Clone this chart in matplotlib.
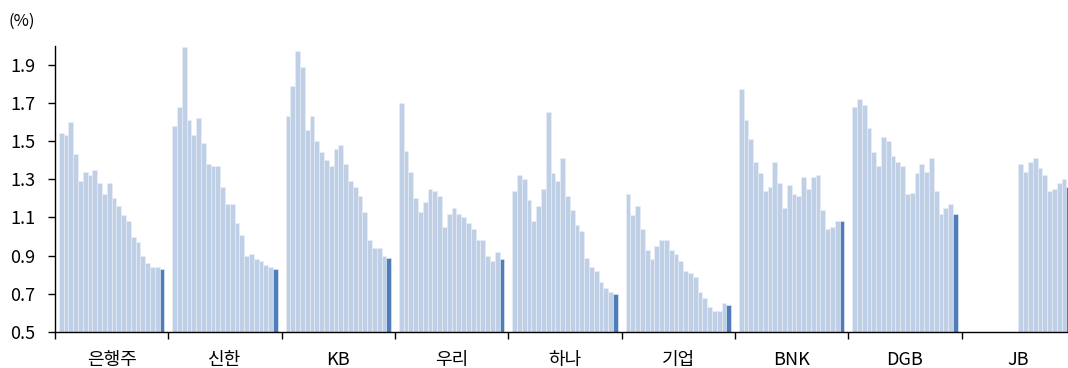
import numpy as np
import matplotlib
matplotlib.use("Agg")
import matplotlib.pyplot as plt

plt.rcParams['font.family'] = ['Noto Sans CJK KR', 'DejaVu Sans']

# 은행별 분기 시계열 (%) - 마지막 값이 최근 분기
banks = ['은행주', '신한', 'KB', '우리', '하나', '기업', 'BNK', 'DGB', 'JB']

bank_all = [1.54, 1.53, 1.60, 1.43, 1.29, 1.34, 1.32, 1.35, 1.28, 1.22, 1.28,
            1.20, 1.16, 1.11, 1.08, 1.00, 0.97, 0.90, 0.86, 0.84, 0.84, 0.83]
shinhan = [1.58, 1.68, 1.99, 1.61, 1.53, 1.62, 1.49, 1.38, 1.37, 1.37, 1.26,
           1.17, 1.17, 1.07, 1.01, 0.90, 0.91, 0.88, 0.87, 0.85, 0.84, 0.83]
kb = [1.63, 1.79, 1.97, 1.89, 1.56, 1.63, 1.50, 1.44, 1.40, 1.37, 1.46,
      1.48, 1.38, 1.29, 1.26, 1.21, 1.13, 0.98, 0.94, 0.94, 0.90, 0.89]
woori = [1.70, 1.45, 1.34, 1.20, 1.13, 1.18, 1.25, 1.24, 1.21, 1.05, 1.12,
         1.15, 1.12, 1.10, 1.07, 1.04, 0.98, 0.98, 0.90, 0.87, 0.92, 0.88]
hana = [1.24, 1.32, 1.30, 1.19, 1.08, 1.16, 1.25, 1.65, 1.33, 1.29, 1.41,
        1.21, 1.14, 1.06, 1.03, 0.89, 0.84, 0.82, 0.76, 0.73, 0.71, 0.70]
ibk = [1.22, 1.11, 1.16, 1.04, 0.93, 0.88, 0.95, 0.98, 0.98, 0.93, 0.91,
       0.87, 0.82, 0.81, 0.79, 0.71, 0.68, 0.63, 0.61, 0.61, 0.65, 0.64]
bnk = [1.77, 1.61, 1.51, 1.39, 1.33, 1.24, 1.26, 1.39, 1.28, 1.15, 1.27,
       1.22, 1.21, 1.31, 1.25, 1.31, 1.32, 1.14, 1.04, 1.05, 1.08, 1.08]
dgb = [1.68, 1.72, 1.69, 1.57, 1.44, 1.37, 1.52, 1.50, 1.42, 1.39, 1.37,
       1.22, 1.23, 1.33, 1.38, 1.34, 1.41, 1.24, 1.12, 1.15, 1.17, 1.12]
jb = [np.nan] * 11 + [1.38, 1.34, 1.39, 1.41, 1.36, 1.32, 1.24, 1.25, 1.28, 1.30, 1.26]

series = [bank_all, shinhan, kb, woori, hana, ibk, bnk, dgb, jb]

light = '#BFD0E6'
dark = '#4F7DB9'

W = 23.6  # group width in bar units
n = 22

fig = plt.figure(figsize=(10.68, 3.68), dpi=100)
ax = fig.add_axes([55 / 1068, 36 / 368, 1020 / 1068, 286.5 / 368])

for g, vals in enumerate(series):
    vals = np.array(vals, dtype=float)
    x = g * W + (W - n) / 2 + np.arange(n) + 0.5
    colors = [light] * (n - 1) + [dark]
    ok = ~np.isnan(vals)
    ax.bar(x[ok], vals[ok] - 0.5, bottom=0.5, width=1.0,
           color=np.array(colors)[ok], edgecolor='#E9EFF7', linewidth=0.4)

ax.set_xlim(0, 9 * W)
ax.set_ylim(0.5, 2.0)
ax.set_yticks([0.5, 0.7, 0.9, 1.1, 1.3, 1.5, 1.7, 1.9])
ax.set_yticklabels(['0.5', '0.7', '0.9', '1.1', '1.3', '1.5', '1.7', '1.9'])
ax.set_xticks([g * W for g in range(10)])
ax.set_xticklabels([])
ax.set_xticks([(g + 0.5) * W for g in range(9)], minor=True)
ax.set_xticklabels(banks, minor=True)
ax.tick_params(axis='x', which='minor', length=0, pad=14, labelsize=13)
ax.tick_params(axis='x', which='major', length=5, width=1)
ax.tick_params(axis='y', length=5, width=1, pad=9, labelsize=13)

ax.spines['top'].set_visible(False)
ax.spines['right'].set_visible(False)
ax.spines['left'].set_linewidth(1)
ax.spines['bottom'].set_linewidth(1)

fig.text(9 / 1068, 1 - 21 / 368, '(%)', fontsize=12, va='center', ha='left')

fig.savefig('out.png', dpi=100)
